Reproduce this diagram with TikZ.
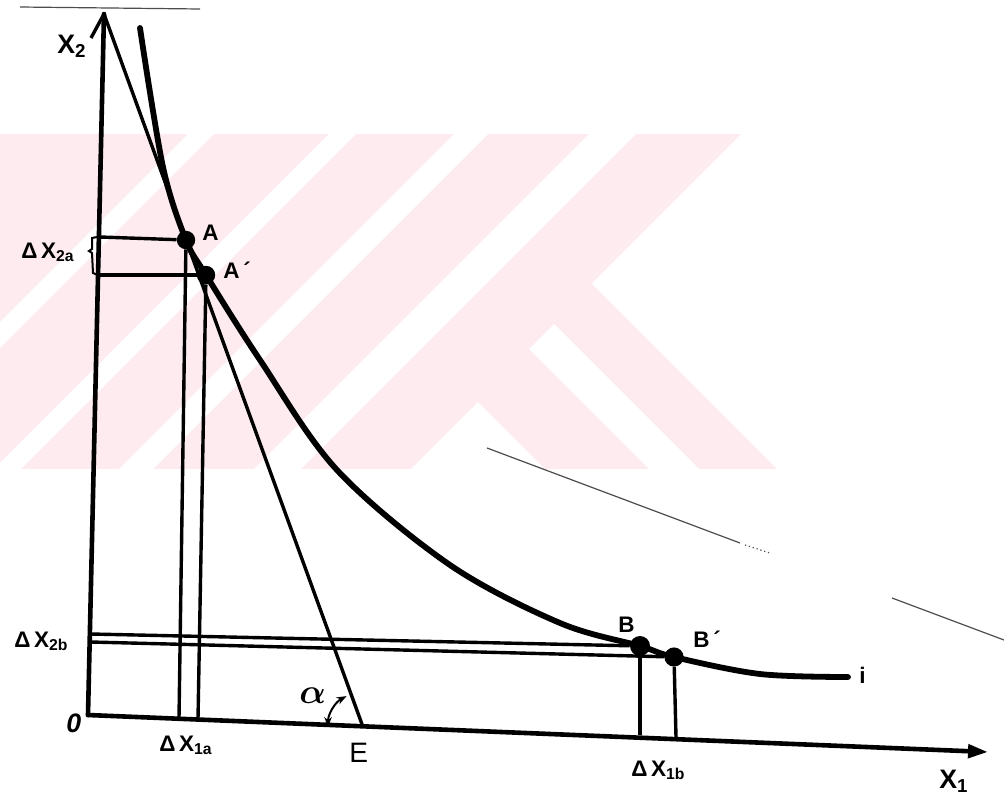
\documentclass[tikz,border=0pt]{standalone}
\usepackage{fontspec}
\setmainfont{Liberation Sans}
\usetikzlibrary{arrows.meta}
\definecolor{wmark}{RGB}{253,235,239}
\tikzset{
  axis/.style={line width=1.15mm, line cap=round},
  curve/.style={line width=1.45mm, line cap=round},
  guide/.style={line width=0.85mm},
  faint/.style={line width=0.3mm, black!70},
  dot/.style={circle, fill, inner sep=0pt, minimum size=4.6mm},
  lbl/.style={anchor=base west, inner sep=0pt, font=\fontsize{16}{19}\selectfont\bfseries},
  big lbl/.style={lbl, font=\fontsize{19}{23}\selectfont\bfseries},
}

\begin{document}
\begin{tikzpicture}[x=0.025cm, y=-0.025cm]
  \useasboundingbox (0,0) rectangle (1004,796);

  % Background: faint watermark bands
  \begin{scope}
    \clip (0,134) rectangle (780,468);
    \fill[wmark] (-10,134) -- (741,134) -- (-10,885) -- cycle;
    \fill[wmark] (442,134) -- (800,492) -- (-10,492) -- (-10,134) -- cycle;
    \foreach \a/\b in {322/348, 463/490, 588/622, 723/770}
      \fill[white] (\a-134,134) -- (\b-134,134) -- (\b-480,480) -- (\a-480,480) -- cycle;
    \fill[white] (529,349) -- (554,324) -- (710,480) -- (660,480) -- cycle;
    \fill[white] (478,402) -- (400,480) -- (556,480) -- cycle;
  \end{scope}

  % Axes
  \coordinate (O) at (88,715);
  \coordinate (ytop) at (104,14);
  \coordinate (xend) at (988,752);
  \draw[axis] (O) -- (ytop);
  \draw[guide] (ytop) -- ++(-13,24);
  \draw[axis, -{Triangle[length=5mm, width=3.3mm]}] (O) -- (xend);
  \draw[faint] (20,7) -- (200,9);

  % Points on the curve
  \coordinate (pA) at (186,240);
  \coordinate (pAp) at (206,275);
  \coordinate (pB) at (640,646);
  \coordinate (pBp) at (674,657);

  % Isoquant i
  \draw[curve] plot[smooth, tension=0.55] coordinates {
    (140,28) (163,167) (pA) (pAp) (260,360) (337,470) (450,565)
    (560,623) (pB) (pBp) (760,674) (848,677)};

  % Tangent through A and A'
  \coordinate (E) at (363,727);
  \draw[guide] (ytop) -- (E);
  \draw[line width=0.5mm, {Stealth[length=2.5mm]}-{Stealth[length=2.5mm]}]
    (E) ++(-35,0) arc[start angle=-180, end angle=-118, radius=35];

  \node[dot] (A) at (pA) {};
  \node[dot] (Ap) at (pAp) {};
  \node[dot, minimum size=5mm] (B) at (pB) {};
  \node[dot, minimum size=4.8mm] (Bp) at (pBp) {};

  % Projections onto the axes
  \coordinate (A-y) at (100,237);
  \coordinate (Ap-y) at (99,275);
  \coordinate (A-x) at (179,718);
  \coordinate (Ap-x) at (198,719);
  \coordinate (B-y) at (91,634);
  \coordinate (Bp-y) at (91,642);
  \coordinate (B-x) at (640,735);
  \coordinate (Bp-x) at (676,737);
  \draw[guide] (A-y) -- (A);
  \draw[guide] (Ap-y) -- (Ap);
  \draw[guide] (A) -- (A-x);
  \draw[guide] (Ap) -- (Ap-x);
  \draw[guide] (B-y) -- (B);
  \draw[guide] (Bp-y) -- (Bp);
  \draw[guide] (B) -- (B-x);
  \draw[guide] (Bp) -- (Bp-x);
  \draw[line width=0.5mm] (97,237) -- (92,238) -- (92,249) -- (89,251)
    -- (92,253) -- (93,273) -- (98,275);

  % Faint second curve
  \draw[faint] (487,448) -- (740,543);
  \draw[faint, dotted] (745,545) -- (770,553);
  \draw[faint] (892,598) -- (1004,640);

  % Labels
  \node[big lbl] (lx2) at (57,53) {X\textsubscript{2}};
  \node[big lbl] (lx1) at (939,788) {X\textsubscript{1}};
  \node[big lbl, font=\fontsize{19}{23}\selectfont\bfseries\itshape] (l0) at (66,732) {0};
  \node[lbl] (lA) at (202,240) {A};
  \node[lbl] (lAp) at (223,278) {A\,´};
  \node[lbl] (lB) at (618,632) {B};
  \node[lbl] (lBp) at (693,647) {B\,´};
  \node[lbl] (li) at (859,683) {i};
  \node[lbl, font=\fontsize{20}{24}\selectfont] (lE) at (349,762) {E};
  \node[lbl, font=\fontsize{34}{34}\selectfont\boldmath] (lal) at (299,703) {$\alpha$};
  \node[lbl] (ld2a) at (21,258) {Δ\,X\textsubscript{2a}};
  \node[lbl] (ld2b) at (14,647) {Δ\,X\textsubscript{2b}};
  \node[lbl] (ld1a) at (159,751) {Δ\,X\textsubscript{1a}};
  \node[lbl] (ld1b) at (631,776) {Δ\,X\textsubscript{1b}};
\end{tikzpicture}
\end{document}
